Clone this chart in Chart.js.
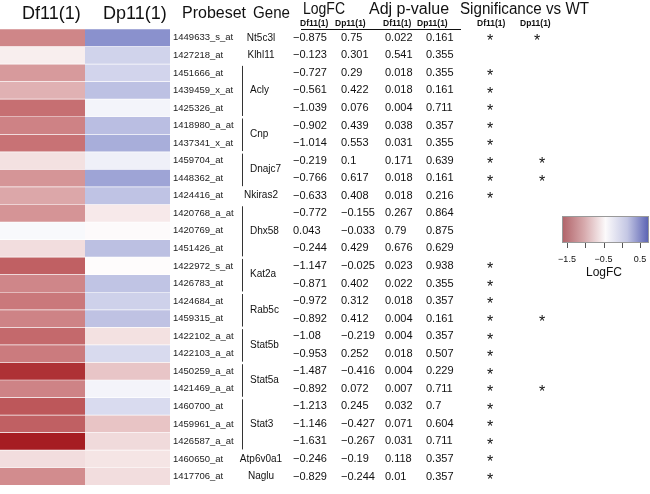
<!DOCTYPE html>
<html>
<head>
<meta charset="utf-8">
<script src="https://cdn.jsdelivr.net/npm/chart.js@4.4.1/dist/chart.umd.min.js"></script>
<style>
  html, body { margin: 0; padding: 0; background: #fff; }
</style>
</head>
<body>
<canvas id="chart" width="650" height="494"></canvas>
<script>
// data
const strains = ["Df11(1)", "Dp11(1)"];
const probesets = ["1449633_s_at", "1427218_at", "1451666_at", "1439459_x_at", "1425326_at",
  "1418980_a_at", "1437341_x_at", "1459704_at", "1448362_at", "1424416_at", "1420768_a_at",
  "1420769_at", "1451426_at", "1422972_s_at", "1426783_at", "1424684_at", "1459315_at",
  "1422102_a_at", "1422103_a_at", "1450259_a_at", "1421469_a_at", "1460700_at", "1459961_a_at",
  "1426587_a_at", "1460650_at", "1417706_at"];
const genes = ["Nt5c3l", "Klhl11", "Acly", "Cnp", "Dnajc7", "Nkiras2", "Dhx58", "Kat2a", "Rab5c",
  "Stat5b", "Stat5a", "Stat3", "Atp6v0a1", "Naglu"];
const geneSpans = [1, 1, 3, 2, 2, 1, 3, 2, 2, 2, 2, 3, 1, 1];
const logfcDf = [-0.875, -0.123, -0.727, -0.561, -1.039, -0.902, -1.014, -0.219, -0.766, -0.633,
  -0.772, 0.043, -0.244, -1.147, -0.871, -0.972, -0.892, -1.08, -0.953, -1.487, -0.892, -1.213,
  -1.146, -1.631, -0.246, -0.829];
const logfcDp = [0.75, 0.301, 0.29, 0.422, 0.076, 0.439, 0.553, 0.1, 0.617, 0.408, -0.155, -0.033,
  0.429, -0.025, 0.402, 0.312, 0.412, -0.219, 0.252, -0.416, 0.072, 0.245, -0.427, -0.267, -0.19,
  -0.244];
const adjpDf = [0.022, 0.541, 0.018, 0.018, 0.004, 0.038, 0.031, 0.171, 0.018, 0.018, 0.267, 0.79,
  0.676, 0.023, 0.022, 0.018, 0.004, 0.004, 0.018, 0.004, 0.007, 0.032, 0.071, 0.031, 0.118, 0.01];
const adjpDp = [0.161, 0.355, 0.355, 0.161, 0.711, 0.357, 0.355, 0.639, 0.161, 0.216, 0.864, 0.875,
  0.629, 0.938, 0.355, 0.357, 0.161, 0.357, 0.507, 0.229, 0.711, 0.7, 0.604, 0.711, 0.357, 0.357];
const sigDf = [1, 0, 1, 1, 1, 1, 1, 1, 1, 1, 0, 0, 0, 1, 1, 1, 1, 1, 1, 1, 1, 1, 1, 1, 1, 1];
const sigDp = [1, 0, 0, 0, 0, 0, 0, 1, 1, 0, 0, 0, 0, 0, 0, 0, 1, 0, 0, 0, 1, 0, 0, 0, 0, 0];
const colorbarTicks = [-1.5, -1, -0.5, 0, 0.5];
const colorbarLabels = [-1.5, -0.5, 0.5];

const FONT = "'Liberation Sans', Arial, Helvetica, sans-serif";

function cellColor(v) {
  let t, end;
  if (v < 0) { t = Math.min(1, -v / 1.65); end = [165, 26, 31]; }
  else { t = Math.min(1, v / 0.85); end = [122, 130, 198]; }
  const c = end.map(e => Math.round(255 + (e - 255) * t));
  return "rgb(" + c.join(",") + ")";
}

function fmt(v) {
  return String(v).replace("-", "\u2212");
}

const tablePlugin = {
  id: "table",
  afterDraw(chart) {
    const ctx = chart.ctx;
    const ys = chart.scales.y;
    ctx.save();
    ctx.fillStyle = "#111";
    ctx.textBaseline = "alphabetic";

    // column headers
    ctx.font = "18px " + FONT;
    ctx.fillText(strains[0], 22, 19);
    ctx.fillText(strains[1], 103, 19);
    ctx.font = "16px " + FONT;
    ctx.fillText("Probeset", 182, 18, 65);
    ctx.fillText("Gene", 253, 18, 37);
    ctx.fillText("LogFC", 303, 14, 42);
    ctx.fillText("Adj p-value", 369, 14, 83);
    ctx.fillText("Significance vs WT", 460, 14, 129);

    ctx.font = "bold 8.5px " + FONT;
    const subX = [300, 335, 383, 417, 477, 520];
    subX.forEach((x, k) => ctx.fillText(strains[k % 2], x, 26, 31));

    ctx.strokeStyle = "#111";
    ctx.lineWidth = 1;
    ctx.beginPath();
    ctx.moveTo(301, 29.5);
    ctx.lineTo(461, 29.5);
    ctx.stroke();

    // table values
    ctx.textBaseline = "middle";
    ctx.font = "11px " + FONT;
    probesets.forEach((p, i) => {
      const y = ys.getPixelForValue(i);
      ctx.textAlign = "left";
      ctx.fillText(fmt(logfcDf[i]), 293, y);
      ctx.fillText(fmt(logfcDp[i]), 341, y);
      ctx.fillText(fmt(adjpDf[i]), 385, y);
      ctx.fillText(fmt(adjpDp[i]), 426, y);
    });

    // stars
    ctx.font = "16px " + FONT;
    ctx.textAlign = "center";
    probesets.forEach((p, i) => {
      const y = ys.getPixelForValue(i) + 4;
      if (sigDf[i]) ctx.fillText("*", 490, y);
      if (sigDp[i]) ctx.fillText("*", i === 0 ? 537 : 542, y);
    });

    // genes with brackets
    ctx.font = "10px " + FONT;
    let row = 0;
    genes.forEach((g, k) => {
      const n = geneSpans[k];
      const y0 = ys.getPixelForValue(row);
      const y1 = ys.getPixelForValue(row + n - 1);
      if (n > 1) {
        ctx.strokeStyle = "#333";
        ctx.beginPath();
        ctx.moveTo(242.5, y0 - 7);
        ctx.lineTo(242.5, y1 + 8);
        ctx.stroke();
        ctx.textAlign = "left";
        ctx.fillText(g, 250, (y0 + y1) / 2);
      } else {
        ctx.textAlign = "center";
        ctx.fillText(g, 261, y0);
      }
      row += n;
    });

    // colour key
    const cx0 = 562, cx1 = 649, cy0 = 216, cy1 = 243;
    const grad = ctx.createLinearGradient(cx0, 0, cx1, 0);
    grad.addColorStop(0, "rgb(176,98,104)");
    grad.addColorStop(0.25, "rgb(214,168,171)");
    grad.addColorStop(0.5, "rgb(252,250,251)");
    grad.addColorStop(0.75, "rgb(196,199,228)");
    grad.addColorStop(1, "rgb(88,96,178)");
    ctx.fillStyle = grad;
    ctx.fillRect(cx0, cy0, cx1 - cx0, cy1 - cy0);
    ctx.strokeStyle = "#999";
    ctx.strokeRect(cx0 + 0.5, cy0 + 0.5, cx1 - cx0 - 1, cy1 - cy0 - 1);
    const tx = v => 567 + (v + 1.5) * 36.5;
    ctx.strokeStyle = "#555";
    colorbarTicks.forEach(v => {
      ctx.beginPath();
      ctx.moveTo(Math.round(tx(v)) + 0.5, cy1);
      ctx.lineTo(Math.round(tx(v)) + 0.5, cy1 + 5);
      ctx.stroke();
    });
    ctx.fillStyle = "#111";
    ctx.textAlign = "center";
    ctx.font = "9px " + FONT;
    colorbarLabels.forEach(v => ctx.fillText(fmt(v), tx(v), 260));
    ctx.font = "12px " + FONT;
    ctx.fillText("LogFC", 604, 273);
    ctx.restore();
  }
};

new Chart(document.getElementById("chart"), {
  type: "bar",
  data: {
    labels: probesets,
    datasets: [
      { label: strains[0], data: logfcDf.map(() => 1), backgroundColor: logfcDf.map(cellColor) },
      { label: strains[1], data: logfcDp.map(() => 1), backgroundColor: logfcDp.map(cellColor) }
    ]
  },
  options: {
    indexAxis: "y",
    responsive: false,
    animation: false,
    events: [],
    layout: { padding: { top: 29, bottom: 1, left: 0, right: 0 } },
    datasets: { bar: { barPercentage: 1, categoryPercentage: 0.96, borderWidth: 0 } },
    plugins: { legend: { display: false }, tooltip: { enabled: false } },
    scales: {
      x: { stacked: true, display: false, min: 0, max: 2 },
      y: {
        stacked: true,
        position: "right",
        grid: { display: false, drawTicks: false },
        border: { display: false },
        ticks: { autoSkip: false, padding: 3, color: "#222", font: { family: FONT, size: 9.5 } },
        afterFit(scale) { scale.width = 480; }
      }
    }
  },
  plugins: [tablePlugin]
});
</script>
</body>
</html>
